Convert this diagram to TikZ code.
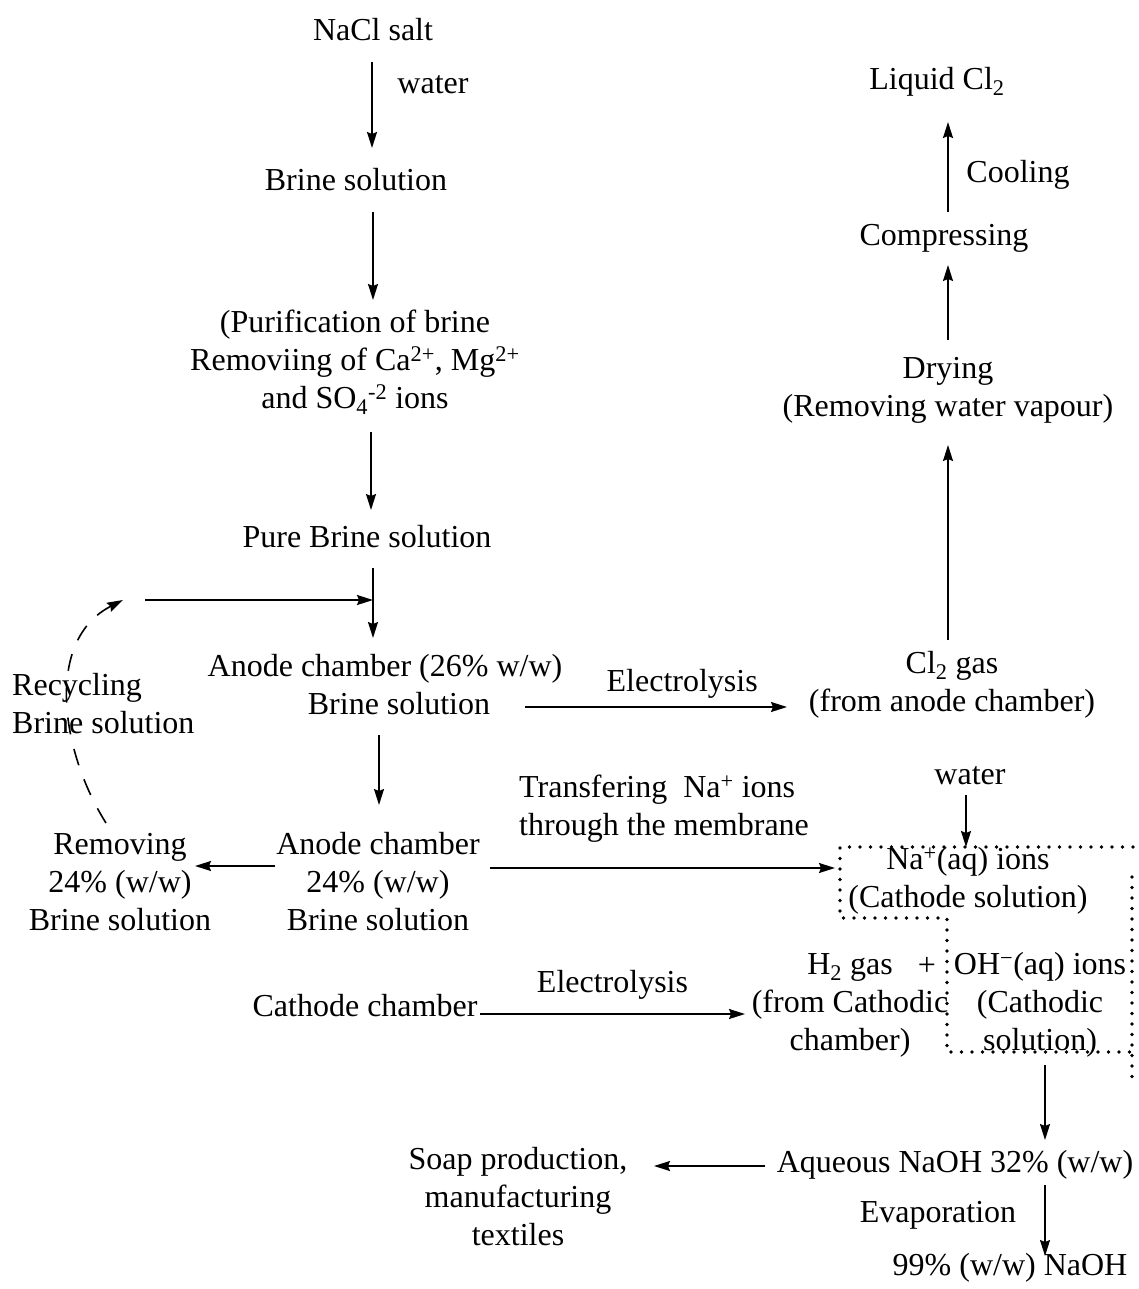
\documentclass[tikz,border=0pt]{standalone}
\usepackage{fontspec}
\setmainfont{Liberation Serif}
\usetikzlibrary{arrows.meta}

\begin{document}
\begin{tikzpicture}[x=1pt,y=-1pt,
        every node/.style={font=\fontsize{32}{38}\selectfont, inner sep=0pt, align=center},
        flow/.style={-{Stealth[length=16pt,width=10pt,inset=2pt]}, line width=1.6pt},
        recycle/.style={flow, dash pattern=on 17pt off 15pt},
        dotline/.style={line width=3.6pt, line cap=round, dash pattern=on 0pt off 10.5pt}]
                \useasboundingbox (0,0) rectangle (1138,1289);

                % brine side
                \node (1) at (373,30) {NaCl salt};
                \node (2) at (433,85) {water};
                \node (3) at (356,180) {Brine solution};
                \node (4) at (355,362) {(Purification of brine\\Removiing of Ca\textsuperscript{2+}, Mg\textsuperscript{2+}\\and SO\textsubscript{4}\textsuperscript{-2} ions};
                \node (5) at (367,537) {Pure Brine solution};
                \node (6) at (385,685) {Anode chamber (26\% w/w)\\\hspace*{28pt}Brine solution};
                \node (7) at (378,882) {Anode chamber\\24\% (w/w)\\Brine solution};
                \node (8) at (120,882) {Removing\\24\% (w/w)\\Brine solution};
                \node[anchor=west, align=left] (9) at (12,704) {Recycling\\Brine solution};
                \node (10) at (365,1006) {Cathode chamber};

                % chlorine side
                \node (11) at (952,685) {Cl\textsubscript{2} gas\\(from anode chamber)};
                \node (12) at (948,390) {Drying\\(Removing water vapour)};
                \node (13) at (944,238) {Compressing};
                \node (14) at (1018,175) {Cooling};
                \node (15) at (937,82) {Liquid Cl\textsubscript{2}};

                % cathode side
                \node[anchor=west, align=left] (16) at (519,809) {Transfering~~Na\textsuperscript{+} ions\\through the membrane};
                \node (17) at (970,776) {water};
                \node (18) at (968,881) {Na\textsuperscript{+}(aq) ions\\(Cathode solution)};
                \node (19) at (850,1005) {H\textsubscript{2} gas\\(from Cathodic\\chamber)};
                \node (20) at (927,966) {+};
                \node (21) at (1040,1005) {OH\textsuperscript{−}(aq) ions\\(Cathodic\\solution)};
                \node (22) at (955,1165) {Aqueous NaOH 32\% (w/w)};
                \node (23) at (518,1197) {Soap production,\\manufacturing\\textiles};
                \node (24) at (938,1215) {Evaporation};
                \node (25) at (1010,1268) {99\% (w/w) NaOH};

                \coordinate (r1) at (145,600);
                \coordinate (r2) at (373,600);

                \draw[flow] ([shift={(-1,32)}]1.center) -- ([shift={(16,-32)}]3.center);
                \draw[flow] ([shift={(17,32)}]3.center) -- ([shift={(18,-62)}]4.center);
                \draw[flow] ([shift={(16,70)}]4.center) -- ([shift={(4,-27)}]5.center);
                \draw[flow] ([shift={(6,31)}]5.center) -- ([shift={(-12,-47)}]6.center);
                \draw[flow] (r1) -- (r2);
                \draw[recycle] ([shift={(-14,-59)}]8.center) .. controls (60,750) and (45,640) .. ([shift={(-22,0)}]r1);
                \draw[flow] ([shift={(-6,50)}]6.center) -- ([shift={(1,-77)}]7.center);
                \draw[flow] ([shift={(-103,-16)}]7.center) -- ([shift={(75,-16)}]8.center);

                \draw[flow] ([shift={(140,22)}]6.center) -- node[pos=0.6, above=8pt] {Electrolysis} ([shift={(-165,22)}]11.center);
                \draw[flow] ([shift={(-4,-45)}]11.center) -- ([shift={(0,55)}]12.center);
                \draw[flow] ([shift={(0,-50)}]12.center) -- ([shift={(4,27)}]13.center);
                \draw[flow] ([shift={(4,-26)}]13.center) -- ([shift={(11,40)}]15.center);

                \draw[flow] ([shift={(112,-14)}]7.center) -- ([shift={(-133,-13)}]18.center);
                \draw[flow] ([shift={(-4,19)}]17.center) -- ([shift={(-2,-34)}]18.center);
                \draw[dotline] (1133,847) -- (840,847) -- (840,918) -- (947,918) -- (947,1052) -- (1133,1052);
                \draw[dotline] (1132,877) -- (1132,1080);

                \draw[flow] ([shift={(115,8)}]10.center) -- node[midway, above=14pt] {Electrolysis} ([shift={(-105,9)}]19.center);
                \draw[flow] ([shift={(5,60)}]21.center) -- ([shift={(90,-25)}]22.center);
                \draw[flow] ([shift={(-190,1)}]22.center) -- ([shift={(136,-31)}]23.center);
                \draw[flow] ([shift={(90,20)}]22.center) -- ([shift={(35,-12)}]25.center);
\end{tikzpicture}
\end{document}
